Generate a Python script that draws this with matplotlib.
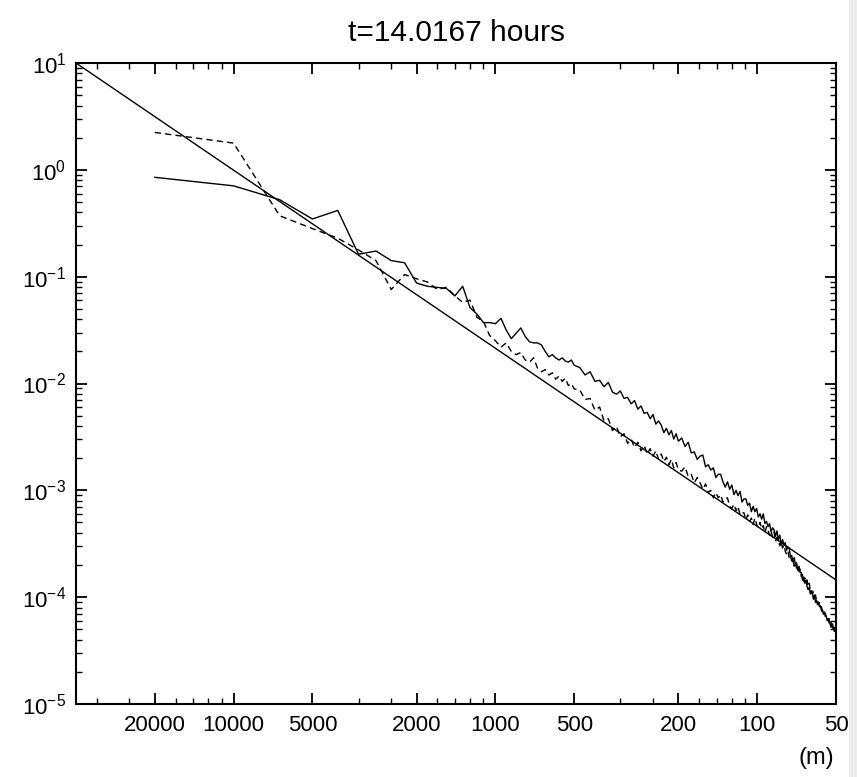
import numpy as np
import matplotlib
matplotlib.use("Agg")
import matplotlib.pyplot as plt
from matplotlib.ticker import FixedLocator, FixedFormatter, LogLocator, NullFormatter
from matplotlib.patches import Rectangle

plt.rcParams['font.family'] = ['Liberation Sans', 'DejaVu Sans']
plt.rcParams['mathtext.fontset'] = 'custom'
plt.rcParams['mathtext.rm'] = 'Liberation Sans'
plt.rcParams['mathtext.it'] = 'Liberation Sans'
plt.rcParams['mathtext.bf'] = 'Liberation Sans'

# ---------------- data ----------------
title_text = "t=14.0167 hours"
domain_length_m = 20000.0          # wavenumber k = n / L  (1/m)

# wavenumber indices of the spectral points
n_low = list(range(1, 41))
n_mid = list(range(42, 101, 2))
n_high = list(range(103, 401, 3))

# solid spectrum, log10(E)
solid_low = [-0.07, -0.15, -0.28, -0.46, -0.38, -0.79, -0.76, -0.85, -0.87, -1.06,
             -1.09, -1.10, -1.11, -1.18, -1.09, -1.29, -1.35, -1.43, -1.43, -1.44,
             -1.39, -1.50, -1.58, -1.53, -1.48, -1.56, -1.61, -1.62, -1.62, -1.64,
             -1.70, -1.75, -1.73, -1.76, -1.78, -1.76, -1.79, -1.80, -1.78, -1.83]
solid_mid = [-1.85, -1.92, -1.89, -1.98, -1.97, -2.03, -1.99, -2.08, -2.10, -2.07,
             -2.14, -2.13, -2.19, -2.16, -2.24, -2.21, -2.28, -2.27, -2.33, -2.29,
             -2.38, -2.35, -2.39, -2.46, -2.42, -2.48, -2.44, -2.52, -2.47, -2.54]
solid_high = [-2.51, -2.59, -2.55, -2.65, -2.64, -2.71, -2.68, -2.67, -2.78, -2.76,
              -2.81, -2.79, -2.88, -2.85, -2.85, -2.92, -2.97, -2.92, -2.99, -2.95,
              -3.04, -3.00, -3.05, -3.01, -3.11, -3.08, -3.08, -3.14, -3.12, -3.20,
              -3.15, -3.20, -3.17, -3.25, -3.22, -3.27, -3.22, -3.31, -3.29, -3.34,
              -3.31, -3.39, -3.35, -3.37, -3.43, -3.38, -3.46, -3.42, -3.51, -3.46,
              -3.51, -3.49, -3.56, -3.53, -3.54, -3.62, -3.61, -3.67, -3.63, -3.70,
              -3.68, -3.75, -3.71, -3.77, -3.77, -3.84, -3.81, -3.87, -3.84, -3.90,
              -3.93, -3.91, -3.97, -3.94, -3.97, -4.02, -3.98, -4.05, -4.03, -4.07,
              -4.05, -4.09, -4.08, -4.13, -4.12, -4.16, -4.14, -4.18, -4.18, -4.22,
              -4.20, -4.24, -4.24, -4.28, -4.26, -4.29, -4.27, -4.32, -4.31, -4.34]

# dashed spectrum, log10(E)
dashed_low = [0.35, 0.25, -0.43, -0.55, -0.64, -0.75, -0.85, -1.12, -0.98, -1.02,
              -1.05, -1.12, -1.10, -1.18, -1.24, -1.22, -1.38, -1.42, -1.55, -1.60,
              -1.66, -1.62, -1.70, -1.73, -1.71, -1.78, -1.80, -1.76, -1.86, -1.89,
              -1.87, -1.92, -1.90, -1.96, -1.93, -1.98, -1.95, -2.02, -2.00, -2.05]
dashed_mid = [-2.06, -2.15, -2.14, -2.25, -2.22, -2.35, -2.33, -2.44, -2.40, -2.50,
              -2.47, -2.56, -2.52, -2.60, -2.55, -2.63, -2.58, -2.66, -2.61, -2.68,
              -2.63, -2.71, -2.66, -2.73, -2.69, -2.76, -2.71, -2.79, -2.74, -2.81]
dashed_high = [-2.82, -2.78, -2.87, -2.85, -2.93, -2.88, -2.93, -2.99, -2.94, -3.02,
               -3.00, -3.07, -3.02, -3.07, -3.04, -3.11, -3.08, -3.07, -3.15, -3.17,
               -3.13, -3.19, -3.15, -3.23, -3.21, -3.21, -3.28, -3.23, -3.29, -3.26,
               -3.32, -3.26, -3.32, -3.35, -3.30, -3.36, -3.33, -3.40, -3.34, -3.37,
               -3.42, -3.38, -3.44, -3.39, -3.48, -3.44, -3.47, -3.52, -3.48, -3.54,
               -3.51, -3.57, -3.60, -3.57, -3.63, -3.60, -3.67, -3.65, -3.71, -3.67,
               -3.74, -3.72, -3.76, -3.74, -3.81, -3.79, -3.85, -3.82, -3.86, -3.84,
               -3.90, -3.87, -3.93, -3.92, -3.97, -3.95, -3.99, -3.98, -4.03, -4.02,
               -4.07, -4.05, -4.09, -4.09, -4.13, -4.11, -4.15, -4.15, -4.18, -4.17,
               -4.21, -4.20, -4.25, -4.23, -4.26, -4.25, -4.28, -4.27, -4.31, -4.30]

# reference power-law line (k^-5/3) end points
ref_k = [2.5e-5, 2.0e-2]
ref_E = [10.0, 1.45e-4]

# axis
x_limits = [2.5e-5, 2.0e-2]
y_limits = [1e-5, 1e1]
x_tick_wavelengths = [20000, 10000, 5000, 2000, 1000, 500, 200, 100, 50]
y_tick_exponents = [-5, -4, -3, -2, -1, 0, 1]

# ---------------- plot ----------------
n_all = np.array(n_low + n_mid + n_high, dtype=float)
k_all = n_all / domain_length_m
E_solid = 10.0 ** np.array(solid_low + solid_mid + solid_high)
E_dashed = 10.0 ** np.array(dashed_low + dashed_mid + dashed_high)

W, H = 857, 777
fig = plt.figure(figsize=(W / 100, H / 100), dpi=100)
left, right, top, bottom = 76, 836, 63, 704
ax = fig.add_axes([left / W, 1 - bottom / H, (right - left) / W, (bottom - top) / H])

ax.plot(ref_k, ref_E, color='black', lw=1.0)
ax.plot(k_all, E_solid, color='black', lw=1.0)
ax.plot(k_all, E_dashed, color='black', lw=1.0, linestyle=(0, (4.5, 3)))

ax.set_xscale('log')
ax.set_yscale('log')
ax.set_xlim(*x_limits)
ax.set_ylim(*y_limits)

ax.xaxis.set_major_locator(FixedLocator([1.0 / w for w in x_tick_wavelengths]))
ax.xaxis.set_major_formatter(FixedFormatter([str(w) for w in x_tick_wavelengths]))
ax.xaxis.set_minor_locator(LogLocator(base=10, subs=np.arange(2, 10), numticks=50))
ax.xaxis.set_minor_formatter(NullFormatter())

ax.yaxis.set_major_locator(FixedLocator([10.0 ** e for e in y_tick_exponents]))
ax.yaxis.set_major_formatter(FixedFormatter([r'$10^{%d}$' % e for e in y_tick_exponents]))
ax.yaxis.set_minor_locator(LogLocator(base=10, subs=np.arange(2, 10), numticks=50))
ax.yaxis.set_minor_formatter(NullFormatter())

for s in ax.spines.values():
    s.set_linewidth(1.5)
ax.tick_params(which='both', direction='in', top=True, right=True, colors='black')
ax.tick_params(which='major', length=8, width=1.3, labelsize=16)
ax.tick_params(which='minor', length=4.5, width=1.0)
ax.tick_params(axis='x', which='major', pad=8)
ax.tick_params(axis='y', which='major', pad=7)

ax.set_title(title_text, fontsize=21.5, pad=16)
fig.text(834 / W, 1 - 764 / H, '(m)', fontsize=17, ha='right', va='baseline')

# light grey strip at the right edge of the reference screenshot
fig.patches.append(Rectangle((849 / W, 0), 8 / W, 1, transform=fig.transFigure,
                             facecolor='#ececec', edgecolor='none', zorder=-1))

fig.savefig('out.png', dpi=100)
